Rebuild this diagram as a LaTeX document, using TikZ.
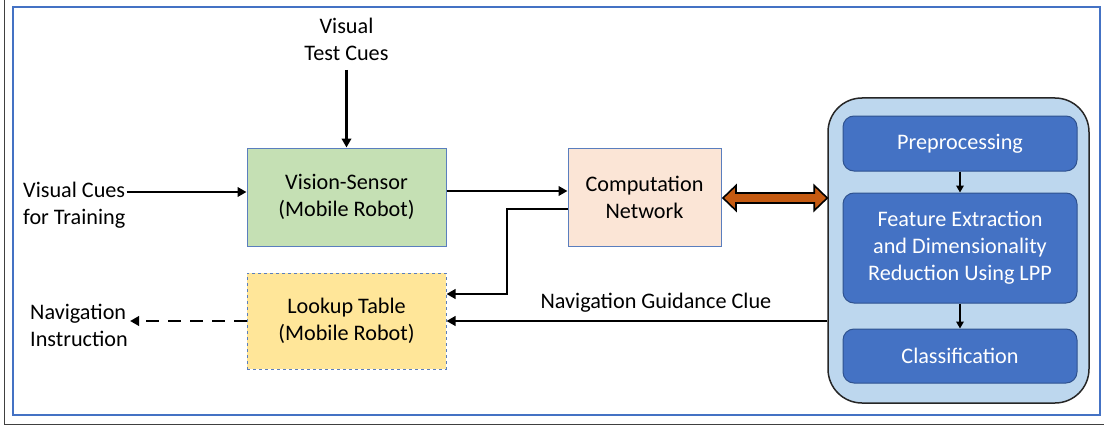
\documentclass[tikz,border=0pt]{standalone}
\usepackage{fontspec}
\setmainfont{Carlito}
\usetikzlibrary{arrows.meta,calc}

\definecolor{frameblue}{HTML}{4472C4}
\definecolor{edgeblue}{HTML}{5A7EBE}
\definecolor{sensorgreen}{HTML}{C5E0B4}
\definecolor{netpeach}{HTML}{FBE5D6}
\definecolor{tableyellow}{HTML}{FFE699}
\definecolor{panelblue}{HTML}{BDD7EE}
\definecolor{stageblue}{HTML}{4472C4}
\definecolor{stageedge}{HTML}{2F528F}
\definecolor{linkorange}{HTML}{C55A11}

\tikzset{
  txt/.style={inner sep=0pt, font=\fontsize{22.2}{27}\selectfont},
  box/.style={txt, draw=edgeblue, line width=1pt, align=center},
  stage/.style={txt, draw=stageedge, line width=1pt, fill=stageblue,
    rounded corners=11pt, text=white, align=center,
    minimum width=234pt},
  arr/.style={line width=2.8pt, -{Triangle[length=9pt,width=9.5pt]}},
  sarr/.style={line width=2.2pt, -{Triangle[length=7pt,width=7.5pt]}},
}

\begin{document}
\begin{tikzpicture}[x=1pt,y=-1pt]
\useasboundingbox (0,0) rectangle (1104,428);

% frames
\draw[line width=1.4pt, black!75] (4.5,0) -- (4.5,424.5) -- (1104,424.5);
\draw[line width=1.2pt, frameblue] (13,7) rectangle (1100,415);

% main blocks
\node[box, fill=sensorgreen, minimum width=199pt, minimum height=98pt]
  (vs) at (346.5,197) {Vision-Sensor\\(Mobile Robot)};
\node[box, fill=tableyellow, dashed, minimum width=199pt, minimum height=96pt]
  (lt) at (346.5,321) {Lookup Table\\(Mobile Robot)};
\node[box, fill=netpeach, minimum width=153pt, minimum height=98pt]
  (cn) at (644.5,197) {Computation\\Network};

% processing panel
\node[draw=black!85, line width=1.5pt, fill=panelblue, rounded corners=34pt,
  minimum width=261pt, minimum height=305pt, inner sep=0pt]
  (panel) at (958.5,250.5) {};
\node[stage, minimum height=55pt] (pre) at (960,143.5) {Preprocessing};
\node[stage, minimum height=110pt] (fe) at (960,248)
  {Feature Extraction\\and Dimensionality\\Reduction Using LPP};
\node[stage, minimum height=54pt] (cl) at (960,356) {Classification};
\draw[sarr] (pre) -- (fe);
\draw[sarr] (fe) -- (cl);

% free-standing labels
\node[txt, align=center] (vtc) at (346.5,39) {Visual\\Test Cues};
\node[txt, align=left, anchor=west] (vc) at (23,205.5) {Visual Cues\\for Training};
\node[txt, align=left, anchor=west] (ni) at (30,325.5) {Navigation\\Instruction};

% connectors
\draw[arr] (vtc.south |- 0,70) -- (vs.north);
\coordinate (vin) at ([yshift=5pt]vs.west);
\draw[arr] ([xshift=1pt]vc.east |- vin) -- (vin);
\coordinate (cin) at ([yshift=6pt]cn.west);
\draw[arr] (vs.east |- cin) -- (cin);
\coordinate (cout) at ([yshift=-12pt]cn.west);
\coordinate (lin) at ([yshift=27pt]lt.east);
\draw[arr] (cout) -| (507,0 |- lin) -- (lin);
\coordinate (gout) at (panel.west |- lt.east);
\draw[arr] (gout) -- node[txt, pos=0.45, above=7pt] (ngc) {Navigation Guidance Clue} (lt.east);
\draw[arr, dash pattern=on 13pt off 9pt] (lt.west) -- ([xshift=2pt]ni.east |- lt.west);

% two-way link between network and panel
\coordinate (la) at ([xshift=1.5pt,yshift=-1pt]cn.east);
\coordinate (lb) at (panel.west |- la);
\filldraw[fill=linkorange, draw=black, line width=1.6pt, line join=miter]
  (la) -- ++(13,-12.5) -- ++(0,7.5) -- ($(lb)+(-13,-5)$) -- ++(0,-7.5)
  -- (lb) -- ++(-13,12.5) -- ++(0,-7.5) -- ($(la)+(13,5)$) -- ++(0,7.5) -- cycle;
\end{tikzpicture}
\end{document}
